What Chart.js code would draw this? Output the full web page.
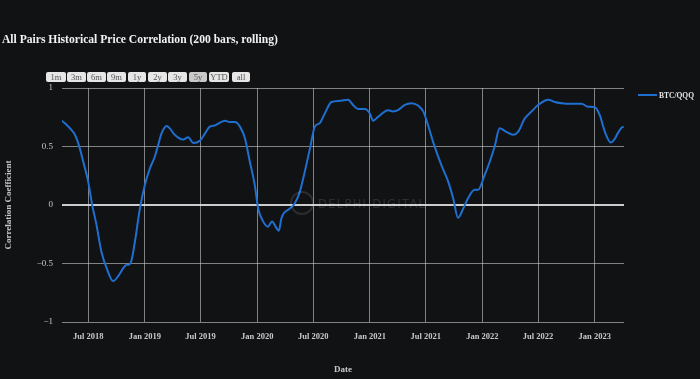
<!DOCTYPE html>
<html>
<head>
<meta charset="utf-8">
<script src="https://cdn.jsdelivr.net/npm/chart.js@4.4.1/dist/chart.umd.min.js"></script>
<style>
  html, body { margin:0; padding:0; background:#111214; }
  #wrap { position:relative; width:700px; height:379px; background:#111214; overflow:hidden; }
  #c { position:absolute; left:0; top:0; }
  #title { position:absolute; left:2px; top:33px; font-family:"Liberation Serif", serif; font-weight:bold; font-size:11.6px; color:#f2f2f2; white-space:nowrap; }
  .btn { position:absolute; top:72px; height:10px; line-height:10px; font-family:"Liberation Serif", serif; font-size:8.5px; color:#555; background:#e6e6e6; border-radius:2px; text-align:center; }
  .btn.active { background:#c9c9c9; }
  #legend { position:absolute; left:638px; top:91px; font-family:"Liberation Serif", serif; font-weight:bold; font-size:7.5px; color:#e6e6e6; white-space:nowrap; }
  #legend span.ln { display:inline-block; width:19px; height:2px; background:#1f6fd1; vertical-align:middle; margin-right:2px; position:relative; top:-1px; }
  #wm { position:absolute; left:318px; top:197px; font-family:"DejaVu Sans", sans-serif; font-size:11.5px; letter-spacing:1.3px; color:rgba(255,255,255,0.12); white-space:nowrap; }
  #wmlogo { position:absolute; left:290px; top:191px; width:24px; height:24px; border:2px solid rgba(255,255,255,0.11); border-radius:50%; box-sizing:border-box; }
</style>
</head>
<body>
<div id="wrap">
  <canvas id="c" width="700" height="379"></canvas>
  <div id="wmlogo"></div>
  <div id="wm">DELPHI DIGITAL</div>
  <div id="title">All Pairs Historical Price Correlation (200 bars, rolling)</div>
  <div id="btns"></div>
  <div id="legend"><span class="ln"></span>BTC/QQQ</div>
</div>
<script>
const seriesName = "BTC/QQQ";
const dates = [
"2018-04-07","2018-04-20","2018-05-03","2018-05-19","2018-06-01","2018-06-15","2018-07-01","2018-07-14","2018-07-28","2018-08-13",
"2018-08-30","2018-09-20","2018-10-06","2018-10-23","2018-11-03","2018-11-10","2018-11-19","2018-11-30","2018-12-16","2019-01-01",
"2019-01-17","2019-02-02","2019-02-13","2019-02-24","2019-03-13","2019-03-23","2019-04-08","2019-05-05","2019-05-22","2019-06-07",
"2019-06-29","2019-07-15","2019-07-31","2019-08-16","2019-09-18","2019-10-04","2019-10-20","2019-11-06","2019-11-22","2019-12-08",
"2019-12-24","2020-01-04","2020-01-20","2020-02-05","2020-02-18","2020-03-04","2020-03-11","2020-03-20","2020-04-16","2020-05-02",
"2020-05-18","2020-06-03","2020-06-20","2020-07-06","2020-07-22","2020-08-07","2020-08-29","2020-09-25","2020-10-22","2020-11-07",
"2020-11-24","2020-12-15","2021-01-01","2021-01-11","2021-01-28","2021-03-01","2021-03-17","2021-04-02","2021-04-24","2021-05-16",
"2021-06-06","2021-06-23","2021-07-09","2021-07-25","2021-08-21","2021-09-12","2021-09-28","2021-10-14","2021-10-31","2021-11-16",
"2021-12-07","2021-12-18","2022-01-09","2022-01-25","2022-02-10","2022-02-26","2022-03-20","2022-04-11","2022-04-27","2022-05-19",
"2022-06-10","2022-07-01","2022-08-03","2022-08-24","2022-09-15","2022-10-17","2022-11-19","2022-12-10","2023-01-01","2023-01-17",
"2023-02-03","2023-02-22","2023-03-07","2023-03-16","2023-03-29","2023-04-05"
];
const correlation = [
0.72,0.69,0.655,0.60,0.51,0.37,0.20,0.00,-0.17,-0.40,
-0.54,-0.65,-0.61,-0.54,-0.51,-0.51,-0.47,-0.31,-0.03,0.17,
0.31,0.41,0.51,0.61,0.675,0.655,0.60,0.56,0.58,0.53,
0.55,0.61,0.67,0.68,0.72,0.71,0.71,0.67,0.57,0.37,
0.17,-0.03,-0.14,-0.185,-0.14,-0.20,-0.22,-0.11,-0.03,0.015,
0.11,0.28,0.48,0.67,0.70,0.78,0.88,0.89,0.90,0.855,
0.82,0.82,0.78,0.72,0.755,0.81,0.80,0.81,0.855,0.87,
0.85,0.80,0.68,0.54,0.34,0.20,0.06,-0.11,-0.03,0.06,
0.13,0.13,0.26,0.37,0.50,0.655,0.625,0.60,0.625,0.74,
0.80,0.855,0.90,0.88,0.87,0.865,0.865,0.84,0.835,0.77,
0.625,0.535,0.565,0.61,0.66,0.67
];
const xTickDates = ["2018-07-01","2019-01-01","2019-07-01","2020-01-01","2020-07-01","2021-01-01","2021-07-01","2022-01-01","2022-07-01","2023-01-01"];
const xTickLabels = ["Jul 2018","Jan 2019","Jul 2019","Jan 2020","Jul 2020","Jan 2021","Jul 2021","Jan 2022","Jul 2022","Jan 2023"];
const yTicks = [-1,-0.5,0,0.5,1];
const rangeButtons = ["1m","3m","6m","9m","1y","2y","3y","5y","YTD","all"];
const activeButton = "5y";
const xRangeStart = "2018-04-07";
const xRangeEnd = "2023-04-06";

const toMs = s => Date.parse(s + "T00:00:00Z");

// range selector buttons
const btnLefts = [46,67,87,107,128,148,168,189,209,232];
const btnWidths = [20,19,19,19,18,19,19,18,20,18];
const bwrap = document.getElementById('btns');
rangeButtons.forEach((b,i)=>{
  const d = document.createElement('div');
  d.className = 'btn' + (b===activeButton?' active':'');
  d.style.left = btnLefts[i]+'px';
  d.style.width = btnWidths[i]+'px';
  d.textContent = b;
  bwrap.appendChild(d);
});

const points = dates.map((d,i)=>({x:toMs(d), y:correlation[i]}));
const tickMs = xTickDates.map(toMs);
const fontSerif = "'Liberation Serif', 'Times New Roman', serif";

new Chart(document.getElementById('c'), {
  type:'line',
  data:{ datasets:[{
    label: seriesName,
    data: points,
    borderColor:'#1f6fd1',
    backgroundColor:'#1f6fd1',
    borderWidth:2,
    pointRadius:0,
    cubicInterpolationMode:'monotone',
    fill:false
  }]},
  options:{
    responsive:false,
    animation:false,
    devicePixelRatio:1,
    layout:{ padding:{ top:88, right:76, left:0, bottom:0 } },
    plugins:{ legend:{display:false}, title:{display:false}, tooltip:{enabled:false} },
    scales:{
      x:{
        type:'linear',
        min: toMs(xRangeStart),
        max: toMs(xRangeEnd),
        afterBuildTicks: ax => { ax.ticks = tickMs.map(v=>({value:v})); },
        afterFit: ax => { ax.height = 57; },
        ticks:{
          autoSkip:false, maxRotation:0, padding:10,
          color:'#c8c8c8',
          font:{ family:fontSerif, size:8.5, weight:'bold' },
          callback:(v,i)=> xTickLabels[i]
        },
        grid:{ color:'rgba(205,205,205,0.6)', lineWidth:1, drawTicks:false },
        border:{ display:false },
        title:{ display:true, text:'Date', color:'#c8c8c8', font:{family:fontSerif, size:9, weight:'bold'}, padding:{top:0,bottom:4} }
      },
      y:{
        min:-1, max:1,
        afterBuildTicks: ax => { ax.ticks = yTicks.map(v=>({value:v})); },
        afterFit: ax => { ax.width = 62; },
        ticks:{
          padding:9,
          color:'#c8c8c8',
          font:{ family:fontSerif, size:9 },
          callback: v => String(v).replace('-', '\u2212')
        },
        grid:{
          color: c => c.tick && c.tick.value===0 ? 'rgba(225,225,225,0.9)' : 'rgba(205,205,205,0.6)',
          lineWidth: c => c.tick && c.tick.value===0 ? 2 : 1,
          drawTicks:false
        },
        border:{ display:false },
        title:{ display:true, text:'Correlation Coefficient', color:'#c8c8c8', font:{family:fontSerif, size:9, weight:'bold'}, padding:{top:3,bottom:0} }
      }
    }
  }
});
</script>
</body>
</html>
